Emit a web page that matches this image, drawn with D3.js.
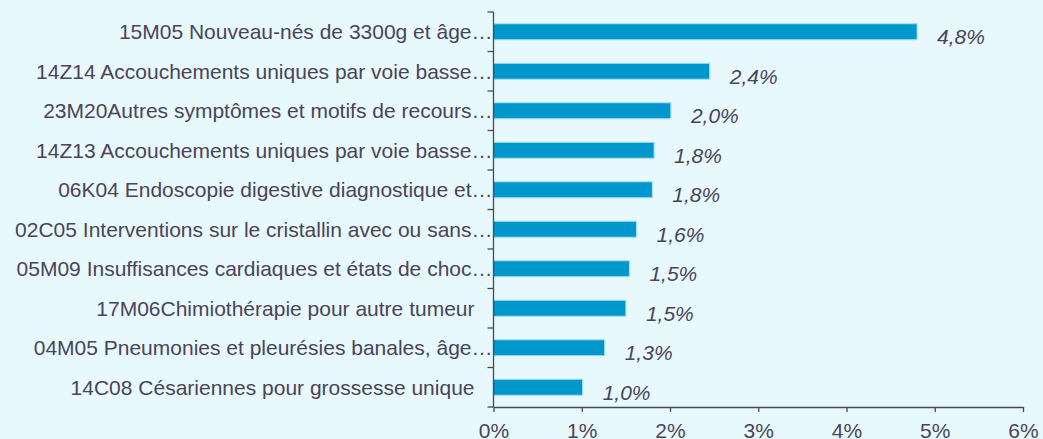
<!DOCTYPE html>
<html>
<head>
<meta charset="utf-8">
<script src="https://cdn.jsdelivr.net/npm/d3@7"></script>
<style>
  html, body { margin: 0; padding: 0; background: #E8F9FE; }
  svg { display: block; }
  text { font-family: "Liberation Sans", Arial, sans-serif; }
</style>
</head>
<body>
<svg id="chart" width="1043" height="439"></svg>
<script>
const categories = [
  "15M05 Nouveau-nés de 3300g et âge…",
  "14Z14 Accouchements uniques par voie basse…",
  "23M20Autres symptômes et motifs de recours…",
  "14Z13 Accouchements uniques par voie basse…",
  "06K04 Endoscopie digestive diagnostique et…",
  "02C05 Interventions sur le cristallin avec ou sans…",
  "05M09 Insuffisances cardiaques et états de choc…",
  "17M06Chimiothérapie pour autre tumeur",
  "04M05 Pneumonies et pleurésies banales, âge…",
  "14C08 Césariennes pour grossesse unique"
];
const barValues = [4.80, 2.45, 2.01, 1.82, 1.80, 1.62, 1.54, 1.50, 1.26, 1.01];
const valueLabels = ["4,8%", "2,4%", "2,0%", "1,8%", "1,8%", "1,6%", "1,5%", "1,5%", "1,3%", "1,0%"];
const xTicks = [0, 1, 2, 3, 4, 5, 6];

const svg = d3.select("#chart");
const mLeft = 493.5, mRight = 1023, mTop = 12, mBottom = 407;
const textColor = "#4A4458";
const axisColor = "#4A4458";

const x = d3.scaleLinear().domain([0, 6]).range([mLeft, mRight]);
const y = d3.scaleBand().domain(categories).range([mTop, mBottom])
  .paddingInner(0.595).paddingOuter(0.2975);

// bars
svg.append("g").selectAll("rect").data(categories).join("rect")
  .attr("x", x(0))
  .attr("y", (d) => y(d))
  .attr("width", (d, i) => x(barValues[i]) - x(0))
  .attr("height", y.bandwidth())
  .attr("fill", "#0098CC")
  .attr("stroke", "#A6E0F2")
  .attr("stroke-width", 1);

// value labels
svg.append("g").selectAll("text").data(categories).join("text")
  .attr("x", (d, i) => x(barValues[i]) + 20)
  .attr("y", (d) => y(d) + y.bandwidth() / 2 + 5)
  .attr("dy", "0.36em")
  .attr("font-size", 21)
  .attr("font-style", "italic")
  .attr("fill", textColor)
  .text((d, i) => valueLabels[i]);

// x axis
const xAxis = d3.axisBottom(x).tickValues(xTicks).tickFormat(d => d + "%")
  .tickSize(5).tickSizeOuter(0).tickPadding(11);
const gx = svg.append("g").attr("transform", `translate(0,${mBottom})`).call(xAxis);
gx.select(".domain").attr("stroke", axisColor).attr("stroke-width", 1.3);
gx.selectAll(".tick line").attr("stroke", axisColor).attr("stroke-width", 1.3);
gx.selectAll(".tick text").attr("font-size", 21).attr("fill", textColor)
  .attr("font-family", "'Liberation Sans', Arial, sans-serif");

// y axis line with category-boundary ticks
const gy = svg.append("g");
gy.append("line").attr("x1", mLeft).attr("x2", mLeft).attr("y1", mTop).attr("y2", mBottom)
  .attr("stroke", axisColor).attr("stroke-width", 1.3);
gy.selectAll("line.tk").data(d3.range(categories.length + 1)).join("line")
  .attr("class", "tk")
  .attr("x1", mLeft - 6).attr("x2", mLeft)
  .attr("y1", i => mTop + i * y.step()).attr("y2", i => mTop + i * y.step())
  .attr("stroke", axisColor).attr("stroke-width", 1.3);

// category labels
svg.append("g").selectAll("text").data(categories).join("text")
  .attr("x", d => d.endsWith("…") ? mLeft - 1 : mLeft - 19)
  .attr("y", d => y(d) + y.bandwidth() / 2)
  .attr("dy", "0.36em")
  .attr("text-anchor", "end")
  .attr("font-size", 21)
  .attr("fill", textColor)
  .text(d => d);
</script>
</body>
</html>
